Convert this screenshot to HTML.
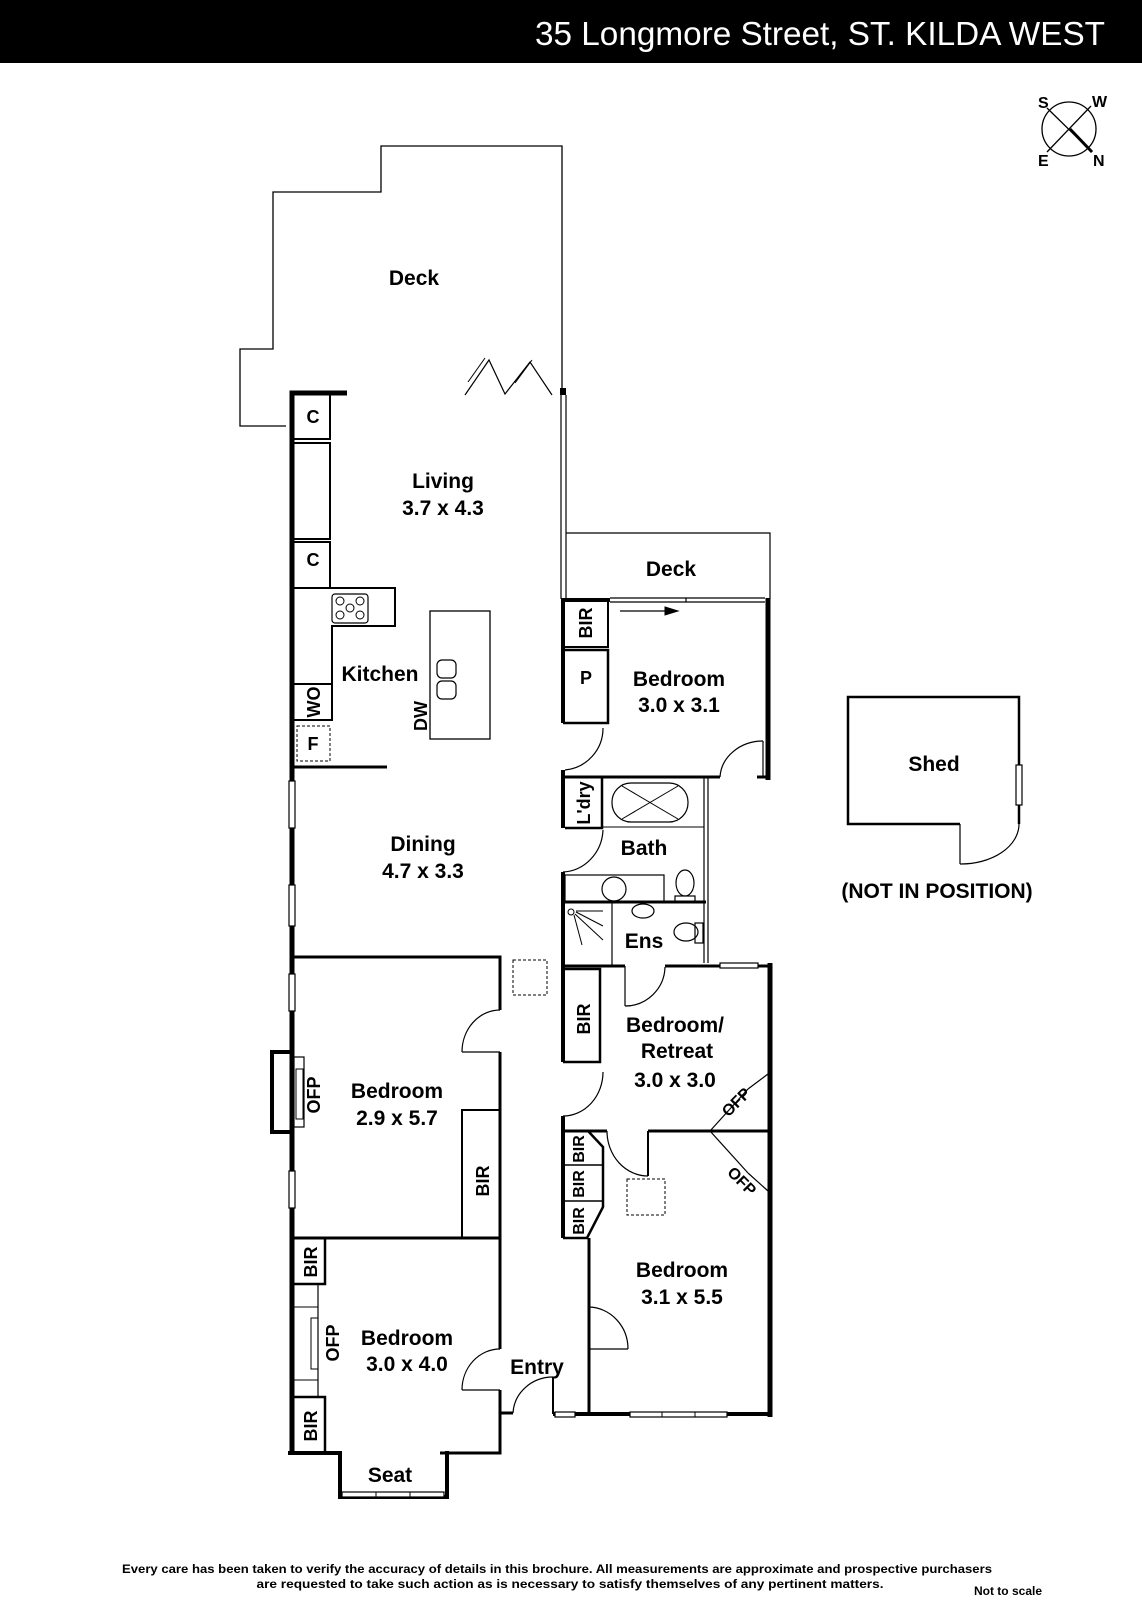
<!DOCTYPE html>
<html><head><meta charset="utf-8"><style>
html,body{margin:0;padding:0;background:#fff;}
svg{display:block;}
text{font-family:"Liberation Sans",sans-serif;font-weight:bold;fill:#000;}
</style></head><body>
<svg width="1142" height="1600" viewBox="0 0 1142 1600" xmlns="http://www.w3.org/2000/svg">
<rect x="0" y="0" width="1142" height="63" fill="#000"/>
<text x="1105" y="45" text-anchor="end" font-size="33" style="font-weight:normal;fill:#fff" textLength="570" lengthAdjust="spacingAndGlyphs">35 Longmore Street, ST. KILDA WEST</text>
<g stroke="#000" fill="none" stroke-width="1.3">
<circle cx="1069" cy="129" r="27"/>
<line x1="1047" y1="108" x2="1092" y2="152"/>
<line x1="1070" y1="129" x2="1092" y2="152" stroke-width="3"/>
<line x1="1091" y1="106" x2="1047" y2="152"/>
</g>
<g font-size="16" style="font-weight:normal">
<text x="1038" y="108">S</text><text x="1092" y="107">W</text>
<text x="1038" y="166">E</text><text x="1093" y="166">N</text>
</g>
<g fill="none" stroke="#000">
<polyline points="286,426 240,426 240,349 273,349 273,192 381,192 381,146 562,146 562,390" stroke-width="1.3"/>
<polyline points="465,395 489,360 505,394 530,362 552,395" stroke-width="1.2"/>
<line x1="468" y1="382" x2="485" y2="358" stroke-width="1"/>
<line x1="515" y1="383" x2="532" y2="360" stroke-width="1"/>
<polyline points="347,393 292,393 292,1453" stroke-width="5"/>
<rect x="560" y="388" width="6" height="7" fill="#000" stroke="none"/>
<line x1="561" y1="395" x2="561" y2="599" stroke-width="1.2"/>
<line x1="566" y1="395" x2="566" y2="599" stroke-width="1.2"/>
<g stroke-width="2">
<polyline points="294,439 330,439 330,393"/>
<polyline points="294,443 330,443 330,539 294,539"/>
<polyline points="294,542 330,542 330,588"/>
<polyline points="294,588 395,588 395,626 332,626 332,720 294,720"/>
<line x1="294" y1="684" x2="332" y2="684"/>
<line x1="292" y1="767" x2="387" y2="767" stroke-width="3"/>
<rect x="430" y="611" width="60" height="128" stroke-width="1.3"/>
<rect x="437" y="660" width="19" height="18" rx="5" stroke-width="1.2"/>
<rect x="437" y="681" width="19" height="18" rx="5" stroke-width="1.2"/>
<rect x="332" y="594" width="36" height="29" rx="3" stroke-width="1.2"/>
</g>
<circle cx="340" cy="601" r="4" stroke-width="1"/><circle cx="360" cy="601" r="4" stroke-width="1"/>
<circle cx="350" cy="608" r="4" stroke-width="1"/>
<circle cx="340" cy="615" r="4" stroke-width="1"/><circle cx="360" cy="615" r="4" stroke-width="1"/>
<rect x="297" y="726" width="33" height="35" stroke-width="1" stroke-dasharray="3,2"/>
<g fill="#fff" stroke-width="1.2">
<rect x="289" y="781" width="6" height="47"/>
<rect x="289" y="885" width="6" height="41"/>
<rect x="289" y="974" width="6" height="37"/>
<rect x="289" y="1171" width="6" height="37"/>
</g>
<polyline points="292,1052 272,1052 272,1132 292,1132" stroke-width="4"/>
<rect x="294" y="1057" width="10" height="70" stroke-width="1.2"/>
<rect x="296" y="1069" width="7" height="50" stroke-width="1"/>
<polyline points="566,533 770,533 770,599" stroke-width="1.2"/>
<line x1="561" y1="600" x2="610" y2="600" stroke-width="4"/>
<line x1="610" y1="598" x2="765" y2="598" stroke-width="1.2"/>
<line x1="610" y1="602" x2="765" y2="602" stroke-width="1.2"/>
<line x1="686" y1="598" x2="686" y2="602" stroke-width="1.2"/>
<line x1="620" y1="611" x2="670" y2="611" stroke-width="1.2"/>
<polygon points="665,607 678,611 665,615" fill="#000"/>
<line x1="768" y1="598" x2="768" y2="780" stroke-width="5"/>
<line x1="563" y1="600" x2="563" y2="723" stroke-width="4"/>
<polyline points="565,647 608,647 608,600" stroke-width="2"/>
<polyline points="565,650 608,650 608,723 563,723" stroke-width="2.5"/>
<path d="M565,770 A42,42 0 0 0 603,728" stroke-width="1.2"/>
<line x1="563" y1="770" x2="563" y2="828" stroke-width="4"/>
<polyline points="563,777 720,777" stroke-width="3"/>
<line x1="757" y1="777" x2="768" y2="777" stroke-width="3"/>
<line x1="763" y1="741" x2="763" y2="777" stroke-width="1.2"/>
<path d="M763,741 A43,38 0 0 0 720,777" stroke-width="1.2"/>
<polyline points="565,828 602,828 602,777" stroke-width="2.5"/>
<rect x="612" y="783" width="76" height="39" rx="19" stroke-width="1.2"/>
<line x1="622" y1="786" x2="678" y2="819" stroke-width="1"/>
<line x1="622" y1="819" x2="678" y2="786" stroke-width="1"/>
<line x1="602" y1="827" x2="704" y2="827" stroke-width="1"/>
<line x1="704" y1="777" x2="704" y2="963" stroke-width="1.2"/>
<line x1="708" y1="777" x2="708" y2="963" stroke-width="1.2"/>
<path d="M563,872 A42,44 0 0 0 603,830" stroke-width="1.2"/>
<line x1="563" y1="872" x2="563" y2="1062" stroke-width="4"/>
<rect x="565" y="875" width="99" height="27" stroke-width="1.2"/>
<circle cx="614" cy="889" r="12" stroke-width="1.2"/>
<ellipse cx="685" cy="883" rx="9" ry="13" stroke-width="1.2"/>
<rect x="675" y="896" width="20" height="6" stroke-width="1.2"/>
<line x1="563" y1="902" x2="706" y2="902" stroke-width="3"/>
<line x1="612" y1="902" x2="612" y2="966" stroke-width="1.2"/>
<circle cx="571" cy="912" r="3" stroke-width="1"/>
<line x1="574" y1="915" x2="582" y2="945" stroke-width="1"/><line x1="575" y1="914" x2="603" y2="940" stroke-width="1"/><line x1="576" y1="912" x2="603" y2="926" stroke-width="1"/><line x1="576" y1="911" x2="603" y2="911" stroke-width="1"/>
<ellipse cx="643" cy="911" rx="11" ry="7" stroke-width="1.2"/>
<ellipse cx="686" cy="932" rx="12" ry="9" stroke-width="1.2"/>
<rect x="695" y="923" width="8" height="20" stroke-width="1.2"/>
<line x1="563" y1="966" x2="625" y2="966" stroke-width="3"/>
<path d="M625,1006 A40,40 0 0 0 665,967" stroke-width="1.2"/>
<line x1="625" y1="966" x2="625" y2="1006" stroke-width="1.2"/>
<line x1="665" y1="966" x2="770" y2="966" stroke-width="3"/>
<rect x="720" y="963" width="38" height="5" fill="#fff" stroke-width="1.2"/>
<line x1="770" y1="963" x2="770" y2="1417" stroke-width="5"/>
<polyline points="565,969 600,969 600,1062 563,1062" stroke-width="2.5"/>
<path d="M563,1116 A40,44 0 0 0 603,1072" stroke-width="1.2"/>
<line x1="563" y1="1116" x2="563" y2="1238" stroke-width="4"/>
<line x1="563" y1="1131" x2="607" y2="1131" stroke-width="3"/>
<path d="M607,1131 A41,45 0 0 0 648,1176" stroke-width="1.2"/>
<line x1="648" y1="1131" x2="648" y2="1176" stroke-width="2"/>
<line x1="648" y1="1131" x2="770" y2="1131" stroke-width="3"/>
<polyline points="710,1131 748,1089" stroke-width="1.2"/>
<polyline points="710,1131 748,1173" stroke-width="1.2"/>
<polyline points="748,1089 768,1074" stroke-width="1.2"/>
<polyline points="748,1173 768,1191" stroke-width="1.2"/>
<polyline points="563,1238 587,1238 603,1207 603,1147 588,1131" stroke-width="2.5"/>
<line x1="565" y1="1165" x2="603" y2="1165" stroke-width="1.5"/>
<line x1="565" y1="1201" x2="603" y2="1201" stroke-width="1.5"/>
<line x1="589" y1="1238" x2="589" y2="1412" stroke-width="3"/>
<path d="M589,1307 A40,42 0 0 1 628,1349" stroke-width="1.2"/>
<line x1="589" y1="1349" x2="628" y2="1349" stroke-width="1.2"/>
<rect x="627" y="1179" width="38" height="36" stroke-width="1" stroke-dasharray="3,2"/>
<line x1="553" y1="1414" x2="772" y2="1414" stroke-width="4"/>
<rect x="630" y="1412" width="97" height="5" fill="#fff" stroke-width="1.2"/>
<line x1="662" y1="1412" x2="662" y2="1417" stroke-width="1"/><line x1="695" y1="1412" x2="695" y2="1417" stroke-width="1"/>
<rect x="555" y="1412" width="20" height="5" fill="#fff" stroke-width="1.2"/>
<line x1="553" y1="1377" x2="553" y2="1414" stroke-width="2"/>
<path d="M513,1413 A40,38 0 0 1 553,1377" stroke-width="1.2"/>
<polyline points="292,957 500,957 500,1010" stroke-width="3"/>
<path d="M500,1010 A38,42 0 0 0 462,1052" stroke-width="1.2"/>
<line x1="462" y1="1052" x2="500" y2="1052" stroke-width="1.2"/>
<line x1="500" y1="1052" x2="500" y2="1349" stroke-width="3"/>
<polyline points="500,1110 462,1110 462,1238" stroke-width="2"/>
<line x1="292" y1="1238" x2="500" y2="1238" stroke-width="3"/>
<rect x="513" y="960" width="34" height="35" stroke-width="1" stroke-dasharray="3,2"/>
<polyline points="294,1284 325,1284 325,1238" stroke-width="2.5"/>
<polyline points="294,1397 325,1397 325,1453" stroke-width="2.5"/>
<line x1="318" y1="1284" x2="318" y2="1397" stroke-width="1.2"/>
<line x1="294" y1="1307" x2="318" y2="1307" stroke-width="1"/>
<line x1="294" y1="1380" x2="318" y2="1380" stroke-width="1"/>
<rect x="311" y="1318" width="7" height="51" stroke-width="1"/>
<path d="M500,1349 A38,41 0 0 0 462,1390" stroke-width="1.2"/>
<line x1="462" y1="1390" x2="500" y2="1390" stroke-width="1.2"/>
<polyline points="500,1390 500,1453 440,1453" stroke-width="3"/>
<line x1="500" y1="1413" x2="513" y2="1413" stroke-width="3"/>
<polyline points="288,1453 340,1453 340,1497 447,1497 447,1453 445,1453" stroke-width="4"/>
<rect x="342" y="1492" width="102" height="5" fill="#fff" stroke-width="1.2"/>
<line x1="376" y1="1492" x2="376" y2="1497" stroke-width="1"/><line x1="410" y1="1492" x2="410" y2="1497" stroke-width="1"/>
<polyline points="960,824 848,824 848,697 1019,697 1019,824" stroke-width="2.5"/>
<rect x="1016" y="765" width="6" height="40" fill="#fff" stroke-width="1.2"/>
<line x1="960" y1="824" x2="960" y2="864" stroke-width="1.2"/>
<path d="M960,864 A58,40 0 0 0 1019,824" stroke-width="1.2"/>
</g>
<g font-size="21" text-anchor="middle">
<text x="414" y="285">Deck</text>
<text x="443" y="488">Living</text><text x="443" y="515">3.7 x 4.3</text>
<text x="380" y="681">Kitchen</text>
<text x="671" y="576">Deck</text>
<text x="679" y="686">Bedroom</text><text x="679" y="712">3.0 x 3.1</text>
<text x="644" y="855">Bath</text>
<text x="423" y="851">Dining</text><text x="423" y="878">4.7 x 3.3</text>
<text x="644" y="948">Ens</text>
<text x="675" y="1032">Bedroom/</text><text x="677" y="1058">Retreat</text><text x="675" y="1087">3.0 x 3.0</text>
<text x="397" y="1098">Bedroom</text><text x="397" y="1125">2.9 x 5.7</text>
<text x="682" y="1277">Bedroom</text><text x="682" y="1304">3.1 x 5.5</text>
<text x="407" y="1345">Bedroom</text><text x="407" y="1371">3.0 x 4.0</text>
<text x="537" y="1374">Entry</text>
<text x="390" y="1482">Seat</text>
<text x="934" y="771">Shed</text>
<text x="937" y="898">(NOT IN POSITION)</text>
</g>
<g font-size="18" text-anchor="middle">
<text x="313" y="423">C</text><text x="313" y="566">C</text><text x="586" y="684">P</text><text x="313" y="750">F</text>
<text transform="translate(592,623) rotate(-90)">BIR</text>
<text transform="translate(320,702) rotate(-90)">WO</text>
<text transform="translate(427,716) rotate(-90)">DW</text>
<text transform="translate(590,803) rotate(-90)">L'dry</text>
<text transform="translate(590,1019) rotate(-90)">BIR</text>
<text transform="translate(320,1095) rotate(-90)">OFP</text>
<text transform="translate(489,1181) rotate(-90)">BIR</text>
<text transform="translate(317,1262) rotate(-90)">BIR</text>
<text transform="translate(339,1343) rotate(-90)">OFP</text>
<text transform="translate(317,1426) rotate(-90)">BIR</text>
<text transform="translate(584,1149) rotate(-90)" font-size="16">BIR</text>
<text transform="translate(584,1184) rotate(-90)" font-size="16">BIR</text>
<text transform="translate(584,1221) rotate(-90)" font-size="16">BIR</text>
<text transform="translate(740,1106) rotate(-45)" font-size="16">OFP</text>
<text transform="translate(738,1185) rotate(45)" font-size="16">OFP</text>
</g>
<g font-size="12" text-anchor="middle">
<text x="557" y="1573" textLength="870" lengthAdjust="spacingAndGlyphs">Every care has been taken to verify the accuracy of details in this brochure.  All measurements are approximate and prospective purchasers</text>
<text x="570" y="1588" textLength="627" lengthAdjust="spacingAndGlyphs">are requested to take such action as is necessary to satisfy themselves of any pertinent matters.</text>
<text x="1008" y="1595">Not to scale</text>
</g>
</svg>
</body></html>
